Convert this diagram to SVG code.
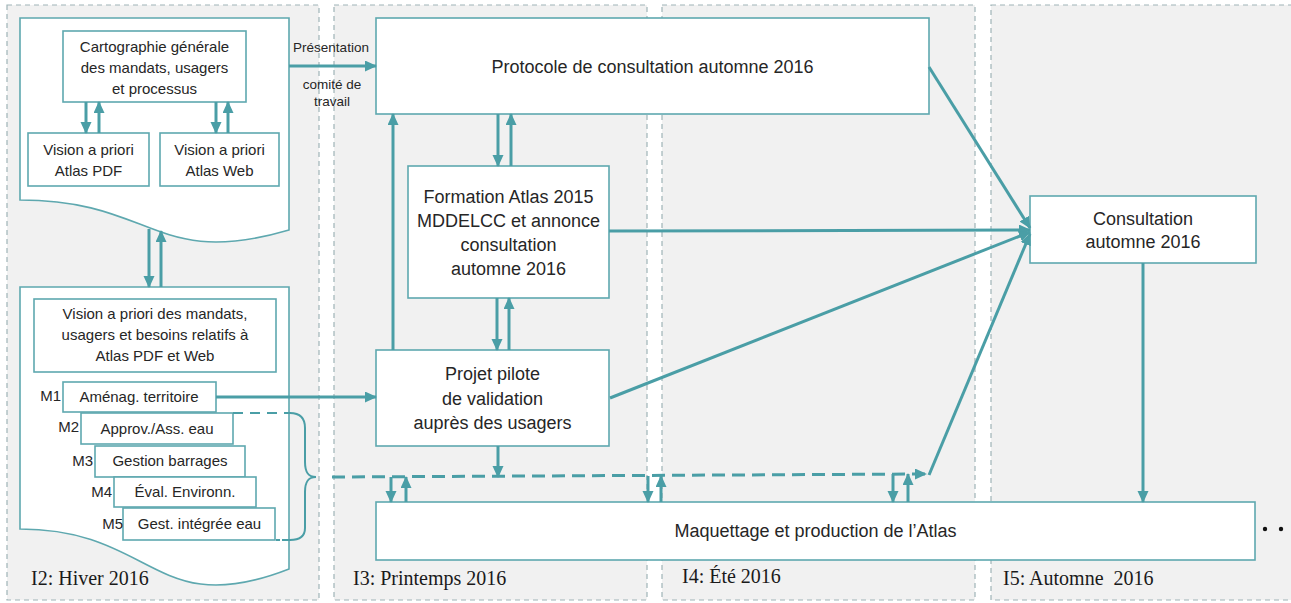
<svg xmlns="http://www.w3.org/2000/svg" width="1291" height="603" viewBox="0 0 1291 603">
<style>
.lane{fill:#f1f1f1;stroke:#9fb4b7;stroke-width:1.2;stroke-dasharray:5,4}
.box{fill:#ffffff;stroke:#5ea8af;stroke-width:1.6}
.doc{fill:#ffffff;stroke:#5ea8af;stroke-width:1.6}
.t{font-family:"Liberation Sans",Arial,sans-serif;fill:#262626;text-anchor:middle}
.s15{font-size:15px}
.s18{font-size:18px}
.s14{font-size:13.5px}
.lab{font-family:"Liberation Sans",Arial,sans-serif;font-size:15px;fill:#262626;text-anchor:end}
.lane-t{font-family:"Liberation Serif","Times New Roman",serif;font-size:20px;fill:#1a1a1a}
.c{fill:none;stroke:#4a9ea6;stroke-width:3}
.cd{fill:none;stroke:#4a9ea6;stroke-width:3;stroke-dasharray:13,7}
.thin{fill:none;stroke:#4a9ea6;stroke-width:2}
</style>
<defs>
<marker id="ah" markerUnits="userSpaceOnUse" markerWidth="13" markerHeight="12" refX="11" refY="5.5" orient="auto">
<path d="M0,0 L12,5.5 L0,11 Z" fill="#4a9ea6"/>
</marker>
</defs>
<rect width="1291" height="603" fill="#ffffff"/>
<g id="lanes">
<rect class="lane" x="7" y="5" width="312" height="595"/>
<rect class="lane" x="334" y="5" width="313" height="595"/>
<rect class="lane" x="662" y="5" width="313" height="595"/>
<rect class="lane" x="991" y="5" width="310" height="595"/>
<text class="lane-t" x="31" y="585">I2: Hiver 2016</text>
<text class="lane-t" x="353" y="585">I3: Printemps 2016</text>
<text class="lane-t" x="682" y="583">I4: Été 2016</text>
<text class="lane-t" x="1003" y="585" xml:space="preserve">I5: Automne  2016</text>
</g>
<g id="doc1">
<path class="doc" d="M20,18 H289 V230 C154.5,269.4 154.5,200 20,200 Z"/>
</g>
<g id="cartographie">
<rect class="box" x="63" y="31" width="183" height="71"/>
<text class="t s15" x="154.5" y="52">Cartographie générale</text>
<text class="t s15" x="154.5" y="73">des mandats, usagers</text>
<text class="t s15" x="154.5" y="94">et processus</text>
</g>
<g id="vision-pdf">
<rect class="box" x="28" y="133" width="121" height="53"/>
<text class="t s15" x="88.5" y="155">Vision a priori</text>
<text class="t s15" x="88.5" y="176">Atlas PDF</text>
</g>
<g id="vision-web">
<rect class="box" x="160" y="133" width="119" height="53"/>
<text class="t s15" x="219.5" y="155">Vision a priori</text>
<text class="t s15" x="219.5" y="176">Atlas Web</text>
</g>
<g id="doc2">
<path class="doc" d="M20,287 H289 V569 C154.5,621.5 154.5,529 20,529 Z"/>
</g>
<g id="vision-mandats">
<rect class="box" x="34" y="299" width="242" height="73"/>
<text class="t s15" x="155" y="319">Vision a priori des mandats,</text>
<text class="t s15" x="155" y="340">usagers et besoins relatifs à</text>
<text class="t s15" x="155" y="361">Atlas PDF et Web</text>
</g>
<g id="m1">
<rect class="box" x="63" y="382" width="153" height="30"/>
<text class="t s15" x="139" y="402">Aménag. territoire</text>
<text class="lab" x="61" y="401">M1</text>
</g>
<g id="m2">
<rect class="box" x="81" y="413" width="152" height="31"/>
<text class="t s15" x="157" y="434">Approv./Ass. eau</text>
<text class="lab" x="79" y="432">M2</text>
</g>
<g id="m3">
<rect class="box" x="95" y="446" width="150" height="31"/>
<text class="t s15" x="170" y="466">Gestion barrages</text>
<text class="lab" x="93" y="466">M3</text>
</g>
<g id="m4">
<rect class="box" x="114" y="477" width="142" height="30"/>
<text class="t s15" x="185" y="497">Éval. Environn.</text>
<text class="lab" x="112" y="497">M4</text>
</g>
<g id="m5">
<rect class="box" x="123" y="508" width="152" height="32"/>
<text class="t s15" x="199.5" y="529">Gest. intégrée eau</text>
<text class="lab" x="123" y="529">M5</text>
</g>
<g id="protocole">
<rect class="box" x="376" y="18" width="553" height="96"/>
<text class="t s18" x="652.5" y="73">Protocole de consultation automne 2016</text>
</g>
<g id="formation">
<rect class="box" x="408" y="166" width="201" height="132"/>
<text class="t s18" x="508.5" y="203">Formation Atlas 2015</text>
<text class="t s18" x="508.5" y="227">MDDELCC et annonce</text>
<text class="t s18" x="508.5" y="251">consultation</text>
<text class="t s18" x="508.5" y="275">automne 2016</text>
</g>
<g id="projet">
<rect class="box" x="376" y="350" width="233" height="96"/>
<text class="t s18" x="492.5" y="380">Projet pilote</text>
<text class="t s18" x="492.5" y="405">de validation</text>
<text class="t s18" x="492.5" y="429">auprès des usagers</text>
</g>
<g id="consultation">
<rect class="box" x="1030" y="196" width="226" height="67"/>
<text class="t s18" x="1143" y="225">Consultation</text>
<text class="t s18" x="1143" y="248">automne 2016</text>
</g>
<g id="maquettage">
<rect class="box" x="376" y="502" width="879" height="58"/>
<text class="t s18" x="815.5" y="537">Maquettage et production de l’Atlas</text>
<circle cx="1265" cy="529" r="2.2" fill="#111"/>
<circle cx="1281" cy="529" r="2.2" fill="#111"/>
</g>
<g id="connectors">
<path class="c" d="M86,102 V133" marker-end="url(#ah)"/>
<path class="c" d="M99,133 V102" marker-end="url(#ah)"/>
<path class="c" d="M216,102 V133" marker-end="url(#ah)"/>
<path class="c" d="M228,133 V102" marker-end="url(#ah)"/>
<path class="c" d="M149,229 V287" marker-end="url(#ah)"/>
<path class="c" d="M161,287 V231" marker-end="url(#ah)"/>
<path class="c" d="M289,66 H376" marker-end="url(#ah)"/>
<text class="t s14" x="331" y="52">Présentation</text>
<text class="t s14" x="332" y="89">comité de</text>
<text class="t s14" x="332" y="106">travail</text>
<path class="c" d="M216,397 H376" marker-end="url(#ah)"/>
<path class="c" d="M393,350 V114" marker-end="url(#ah)"/>
<path class="c" d="M498,114 V166" marker-end="url(#ah)"/>
<path class="c" d="M511,166 V114" marker-end="url(#ah)"/>
<path class="c" d="M497,298 V350" marker-end="url(#ah)"/>
<path class="c" d="M509,350 V298" marker-end="url(#ah)"/>
<path class="c" d="M498,446 V477" marker-end="url(#ah)"/>
<path class="c" d="M929,67 L1030,228" marker-end="url(#ah)"/>
<path class="c" d="M609,231 L1030,230" marker-end="url(#ah)"/>
<path class="c" d="M610,398 L1030,232" marker-end="url(#ah)"/>
<path class="c" d="M929,475 L1030,234" marker-end="url(#ah)"/>
<path class="c" d="M1143,263 V502" marker-end="url(#ah)"/>
<path class="thin" d="M233,413 H290" stroke-dasharray="10,7"/>
<path class="thin" d="M290,413 C300,413 305,418 305,428 V462 C305,472 308,477 316,477 C308,477 305,482 305,492 V528 C305,536 300,540 290,540 H282"/>
<path class="thin" d="M276,540 H280"/>
<path class="cd" d="M332,477 L926,474" marker-end="url(#ah)"/>
<path class="c" d="M391,477 V502" marker-end="url(#ah)"/>
<path class="c" d="M406,502 V477" marker-end="url(#ah)"/>
<path class="c" d="M648,476 V502" marker-end="url(#ah)"/>
<path class="c" d="M661,502 V476" marker-end="url(#ah)"/>
<path class="c" d="M893,474 V502" marker-end="url(#ah)"/>
<path class="c" d="M908,502 V474" marker-end="url(#ah)"/>
</g>
</svg>
